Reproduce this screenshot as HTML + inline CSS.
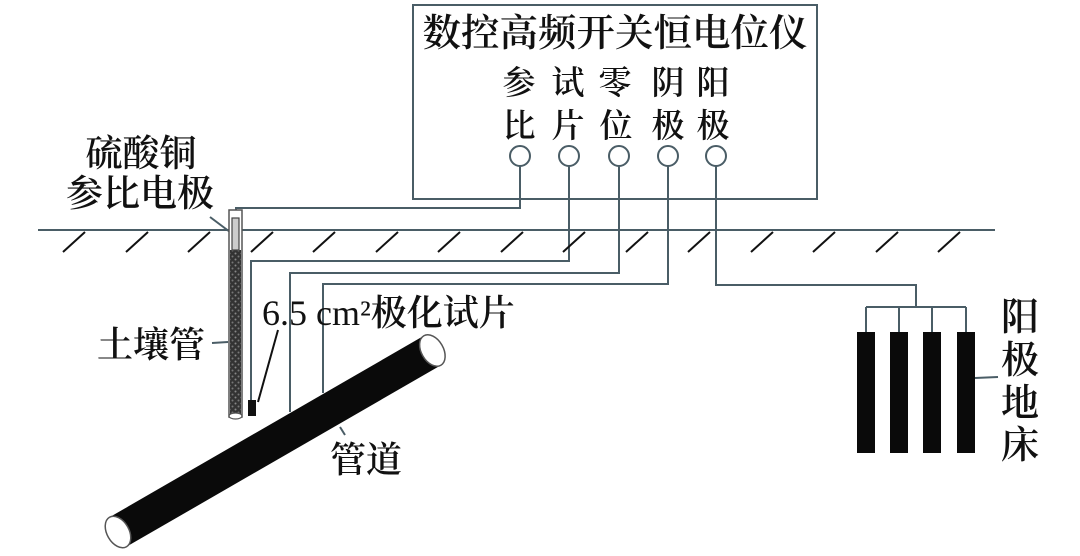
<!DOCTYPE html>
<html><head><meta charset="utf-8"><style>
html,body{margin:0;padding:0;background:#fff;}
svg{display:block;}
text{font-family:"Liberation Serif","Noto Serif CJK SC","Noto Sans CJK SC",serif;fill:#111;font-weight:600;}
</style></head><body>
<svg width="1080" height="556" viewBox="0 0 1080 556" xmlns="http://www.w3.org/2000/svg">
<defs>
<pattern id="grav" width="6" height="6" patternUnits="userSpaceOnUse">
<rect width="6" height="6" fill="#333"/>
<circle cx="1.5" cy="1.5" r="1" fill="#888"/><circle cx="4.5" cy="4.5" r="1" fill="#777"/>
</pattern>
</defs>
<g stroke="#4a5d66" stroke-width="2" fill="none">
<rect x="413" y="5" width="404" height="194"/>
<line x1="38" y1="230" x2="995" y2="230"/>
<polyline points="520,166 520,208 236,208 236,214"/>
<polyline points="569,166 569,261 251,261 251,400"/>
<polyline points="619,166 619,273 290,273 290,412"/>
<polyline points="668,166 668,284 323,284 323,393"/>
<polyline points="716,166 716,285 916,285 916,307"/>
<line x1="866" y1="307" x2="966" y2="307"/>
<line x1="866" y1="307" x2="866" y2="332"/>
<line x1="899" y1="307" x2="899" y2="332"/>
<line x1="932" y1="307" x2="932" y2="332"/>
<line x1="966" y1="307" x2="966" y2="332"/>
<circle cx="520" cy="156" r="10"/><circle cx="569" cy="156" r="10"/>
<circle cx="619" cy="156" r="10"/><circle cx="668" cy="156" r="10"/>
<circle cx="716" cy="156" r="10"/>
<line x1="975" y1="378" x2="998" y2="377"/>
<line x1="210" y1="217" x2="230" y2="232"/>
<line x1="212" y1="343" x2="228" y2="342"/>
<line x1="340" y1="427" x2="345" y2="435"/>
</g>
<g stroke="#111" stroke-width="2">
<line x1="63" y1="252" x2="85" y2="232"/><line x1="126" y1="252" x2="148" y2="232"/>
<line x1="188" y1="252" x2="210" y2="232"/><line x1="251" y1="252" x2="273" y2="232"/>
<line x1="313" y1="252" x2="335" y2="232"/><line x1="376" y1="252" x2="398" y2="232"/>
<line x1="438" y1="252" x2="460" y2="232"/><line x1="501" y1="252" x2="523" y2="232"/>
<line x1="563" y1="252" x2="585" y2="232"/><line x1="626" y1="252" x2="648" y2="232"/>
<line x1="688" y1="252" x2="710" y2="232"/><line x1="751" y1="252" x2="773" y2="232"/>
<line x1="813" y1="252" x2="835" y2="232"/><line x1="876" y1="252" x2="898" y2="232"/>
<line x1="938" y1="252" x2="960" y2="232"/>
<line x1="258" y1="402" x2="278" y2="330"/>
</g>
<rect x="229" y="210" width="13" height="207" fill="#fff" stroke="#555" stroke-width="1.5"/>
<rect x="230" y="250" width="11" height="167" fill="url(#grav)"/>
<rect x="232" y="218" width="7" height="32" fill="#ccc" stroke="#444" stroke-width="1.2"/>
<ellipse cx="235.5" cy="416" rx="6.5" ry="3" fill="#fff" stroke="#555" stroke-width="1.2"/>
<rect x="248" y="400" width="8" height="16" fill="#111"/>
<g transform="translate(118,532) rotate(-30)">
<rect x="0" y="-17" width="363" height="34" fill="#0a0a0a"/>
<ellipse cx="0" cy="0" rx="11" ry="17" fill="#fff" stroke="#555" stroke-width="1.5"/>
<ellipse cx="363" cy="0" rx="11" ry="17" fill="#fff" stroke="#555" stroke-width="1.5"/>
</g>
<rect x="857" y="332" width="18" height="121" fill="#0a0a0a"/>
<rect x="890" y="332" width="18" height="121" fill="#0a0a0a"/>
<rect x="923" y="332" width="18" height="121" fill="#0a0a0a"/>
<rect x="957" y="332" width="18" height="121" fill="#0a0a0a"/>
<text x="615" y="46" font-size="38" text-anchor="middle" textLength="385" lengthAdjust="spacingAndGlyphs">数控高频开关恒电位仪</text>
<g font-size="33" text-anchor="middle">
<text x="519" y="94">参</text><text x="568" y="94">试</text><text x="615" y="94">零</text><text x="668" y="94">阴</text><text x="713" y="94">阳</text>
<text x="519" y="137">比</text><text x="568" y="137">片</text><text x="616" y="137">位</text><text x="668" y="137">极</text><text x="713" y="137">极</text>
</g>
<text x="141" y="166" font-size="37" text-anchor="middle">硫酸铜</text>
<text x="140" y="206" font-size="37" text-anchor="middle">参比电极</text>
<text x="97" y="357" font-size="36">土壤管</text>
<text x="262" y="325" font-size="36"><tspan font-weight="normal">6.5 cm²</tspan>极化试片</text>
<text x="330" y="472" font-size="36">管道</text>
<g font-size="38" text-anchor="middle">
<text x="1020" y="330">阳</text><text x="1020" y="373">极</text><text x="1020" y="416">地</text><text x="1020" y="458">床</text>
</g>
</svg>
</body></html>
